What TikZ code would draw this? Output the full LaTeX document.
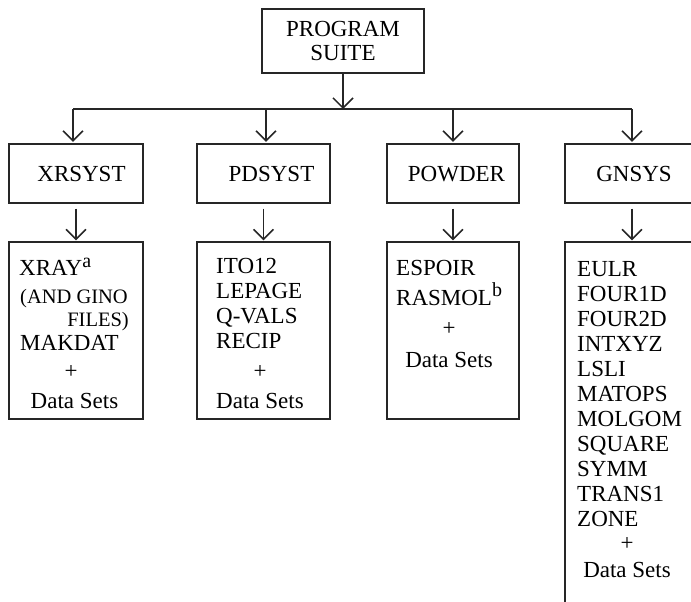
\documentclass[tikz,border=0pt]{standalone}
\usepackage{fontspec}
\setmainfont{Liberation Serif}
\usetikzlibrary{arrows.meta}
\newcommand{\supmark}[1]{\raisebox{8.5pt}{\fontsize{20}{20}\selectfont #1}}
\begin{document}
\begin{tikzpicture}[x=1pt,y=-1pt,
  box/.style={draw=black!85, line width=1.3pt, inner sep=0pt},
  conn/.style={draw=black!85, line width=1.5pt},
  arr/.style={conn, -{Straight Barb[length=10pt,width=20pt]}},
  txt/.style={inner sep=0pt, text=black, text height=15.2pt, text depth=0pt, font=\fontsize{23}{25}\selectfont},
  smalltxt/.style={inner sep=0pt, text=black, text height=13.6pt, text depth=0pt, font=\fontsize{20.5}{23}\selectfont},
]
\useasboundingbox (0,0) rectangle (691,602);
\clip (0,0) rectangle (691,602);

% top box
\node[box, minimum width=162pt, minimum height=64pt, align=center, text=black,
      font=\fontsize{23}{24}\selectfont] (suite) at (343,41) {PROGRAM\\SUITE};

% bus
\coordinate (hub) at (343,109);
\coordinate (j1) at (73,109);
\coordinate (j2) at (266,109);
\coordinate (j3) at (453,109);
\coordinate (j4) at (632,109);

% level-2 boxes
\node[box, minimum width=134pt, minimum height=59pt] (xr) at (76,173.5) {};
\node[box, minimum width=133pt, minimum height=59pt] (pd) at (263.5,173.5) {};
\node[box, minimum width=132pt, minimum height=59pt] (pw) at (453,173.5) {};
\node[box, minimum width=134pt, minimum height=59pt] (gn) at (632,173.5) {};
\node[txt] (xrt) at (81.5,174) {XRSYST};
\node[txt] (pdt) at (271.5,174) {PDSYST};
\node[txt] (pwt) at (456.5,174) {POWDER};
\node[txt] (gnt) at (634,174) {GNSYS};

% lower boxes
\node[box, minimum width=134pt, minimum height=177pt] (xrl) at (76,330.5) {};
\node[box, minimum width=133pt, minimum height=177pt] (pdl) at (263.5,330.5) {};
\node[box, minimum width=132pt, minimum height=177pt] (pwl) at (453,330.5) {};
\node[box, minimum width=134pt, minimum height=420pt] (gnl) at (632,452) {};

% connectors
\draw[arr] (suite.south) -- (hub);
\draw[conn] (j1) -- (j4);
\draw[arr, shorten >=1.5pt] (j1) -- (j1 |- xr.north);
\draw[arr, shorten >=1.5pt] (j2) -- (j2 |- pd.north);
\draw[arr, shorten >=1.5pt] (j3) -- (j3 |- pw.north);
\draw[arr, shorten >=1.5pt] (j4) -- (j4 |- gn.north);
\draw[arr, shorten <=5pt, shorten >=1pt] (xr.south) -- (xrl.north);
\draw[arr, shorten <=5pt, shorten >=1pt] (pd.south) -- (pdl.north);
\draw[arr, shorten <=5pt, shorten >=1pt] (pw.south) -- (pwl.north);
\draw[arr, shorten <=5pt, shorten >=1pt] (gn.south) -- (gnl.north);

% XRSYST contents
\node[txt, anchor=west] (x1) at (19,268) {XRAY\supmark{a}};
\node[smalltxt, anchor=west] (x2) at (20,296.5) {(AND GINO};
\node[smalltxt, anchor=east] (x3) at (129,320) {FILES)};
\node[txt, anchor=west] (x4) at (20,342.5) {MAKDAT};
\node[txt] (x5) at (71,370.5) {+};
\node[txt] (x6) at (74.5,401) {Data Sets};

% PDSYST contents
\node[txt, anchor=west] (p1) at (216,265.5) {ITO12};
\node[txt, anchor=west] (p2) at (216,291) {LEPAGE};
\node[txt, anchor=west] (p3) at (216,316) {Q-VALS};
\node[txt, anchor=west] (p4) at (216,340.5) {RECIP};
\node[txt] (p5) at (260,370.5) {+};
\node[txt] (p6) at (260,401) {Data Sets};

% POWDER contents
\node[txt, anchor=west] (w1) at (396,268) {ESPOIR};
\node[txt, anchor=west] (w2) at (396,297.5) {RASMOL\supmark{b}};
\node[txt] (w3) at (449,327.5) {+};
\node[txt] (w4) at (449,360) {Data Sets};

% GNSYS contents
\foreach \t [count=\i] in {EULR,FOUR1D,FOUR2D,INTXYZ,LSLI,MATOPS,MOLGOM,SQUARE,SYMM,TRANS1,ZONE}
  \node[txt, anchor=west] (g\i) at (577,{269+25*(\i-1)}) {\t};
\node[txt] (gplus) at (627,542.5) {+};
\node[txt] (gdata) at (627,569.5) {Data Sets};
\end{tikzpicture}
\end{document}
